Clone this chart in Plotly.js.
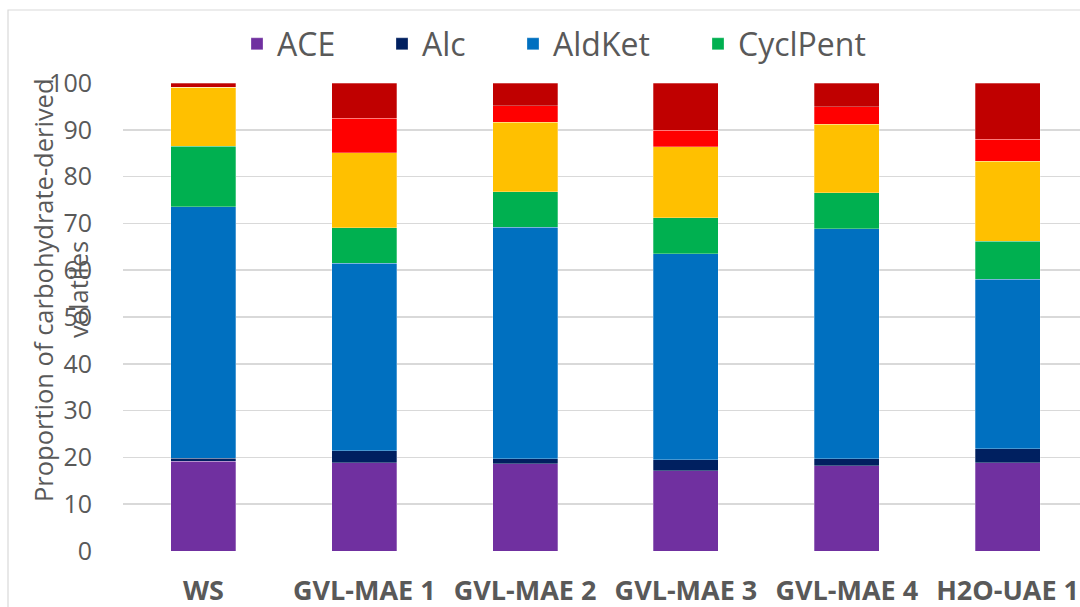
<!DOCTYPE html>
<html>
<head>
<meta charset="utf-8">
<script src="https://cdn.plot.ly/plotly-3.0.1.min.js"></script>
<style>
  html, body { margin: 0; padding: 0; background: #ffffff; overflow: hidden; width: 1080px; height: 607px; }
  #chart { position: absolute; left: 0; top: 0; width: 1100px; height: 607px; }
</style>
</head>
<body>
<div id="chart"></div>
<script>
// ---- data ----
const categories = ['WS', 'GVL-MAE 1', 'GVL-MAE 2', 'GVL-MAE 3', 'GVL-MAE 4', 'H2O-UAE 1'];
const seriesNames = ['ACE', 'Alc', 'AldKet', 'CyclPent', 'Series5', 'Series6', 'Series7'];
const ace      = [19.2, 18.9, 18.6, 17.1, 18.2, 18.9];
const alc      = [0.6, 2.5, 1.1, 2.4, 1.5, 3.0];
const aldket   = [53.8, 40.1, 49.5, 44.0, 49.2, 36.2];
const cyclpent = [12.9, 7.6, 7.6, 7.7, 7.7, 8.1];
const series5  = [12.6, 16.0, 14.8, 15.2, 14.6, 17.1];
const series6  = [0.0, 7.4, 3.5, 3.5, 3.7, 4.7];
const series7  = [0.9, 7.5, 4.9, 10.1, 5.1, 12.0];
const yTickValues = [0, 10, 20, 30, 40, 50, 60, 70, 80, 90, 100];
const yTitleLine1 = 'Proportion of carbohydrate-derived';
const yTitleLine2 = 'volatiles';

// ---- styles ----
const colors = ['#7030A0', '#002060', '#0070C0', '#00B050', '#FFC000', '#FF0000', '#C00000'];
const legendIds = ['legend', 'legend2', 'legend3', 'legend4', 'legend', 'legend', 'legend'];
const inLegend = [true, true, true, true, false, false, false];
const legendLeftPx = [237, 382, 513, 698];
const allValues = [ace, alc, aldket, cyclpent, series5, series6, series7];
const FONT = 'Open Sans, DejaVu Sans, sans-serif';
const GREY = '#595959';

const W = 1100, H = 607;
const M = { l: 123, r: 12, t: 83, b: 56 };
const pw = W - M.l - M.r, ph = H - M.t - M.b;
const px2x = p => (p - M.l) / pw;
const px2y = p => (H - M.b - p) / ph;

const traces = allValues.map((vals, i) => ({
  type: 'bar',
  name: seriesNames[i],
  x: categories,
  y: vals,
  legend: legendIds[i],
  marker: { color: colors[i], line: { color: 'rgba(255,255,255,0.35)', width: 0.8 } },
  showlegend: inLegend[i],
  hoverinfo: 'x+y+name'
}));

function legendAt(leftPx) {
  return {
    orientation: 'h',
    traceorder: 'normal',
    x: px2x(leftPx), xanchor: 'left',
    y: px2y(44), yanchor: 'middle',
    font: { size: 32, color: GREY, family: FONT },
    itemwidth: 30,
    bgcolor: 'rgba(0,0,0,0)'
  };
}

const layout = {
  width: W, height: H,
  margin: M,
  barmode: 'stack',
  bargap: 0.596,
  paper_bgcolor: '#ffffff',
  plot_bgcolor: '#ffffff',
  font: { family: FONT, color: GREY },
  showlegend: true,
  legend: legendAt(legendLeftPx[0]),
  legend2: legendAt(legendLeftPx[1]),
  legend3: legendAt(legendLeftPx[2]),
  legend4: legendAt(legendLeftPx[3]),
  xaxis: {
    type: 'category',
    showgrid: false, zeroline: false, showline: false,
    ticks: '', ticklabelstandoff: 21,
    tickfont: { size: 27, color: GREY, family: FONT, weight: 'bold' }
  },
  yaxis: {
    range: [0, 100],
    tickvals: yTickValues,
    showgrid: true, gridcolor: '#d9d9d9', gridwidth: 1.5,
    zeroline: false, showline: false,
    ticks: '', ticklabelstandoff: 30,
    tickfont: { size: 25, color: GREY, family: FONT }
  },
  shapes: [{
    type: 'rect', xref: 'paper', yref: 'paper', layer: 'below',
    x0: px2x(8), x1: px2x(1120), y0: px2y(640), y1: px2y(10),
    line: { color: '#d9d9d9', width: 1.2 }, fillcolor: 'rgba(0,0,0,0)'
  }],
  annotations: [
    { text: yTitleLine1, xref: 'paper', yref: 'paper', x: px2x(43), y: px2y(290),
      xanchor: 'center', yanchor: 'middle', textangle: -90, showarrow: false,
      font: { size: 25.5, color: GREY, family: FONT } },
    { text: yTitleLine2, xref: 'paper', yref: 'paper', x: px2x(78), y: px2y(290),
      xanchor: 'center', yanchor: 'middle', textangle: -90, showarrow: false,
      font: { size: 25.5, color: GREY, family: FONT } }
  ]
};

Plotly.newPlot('chart', traces, layout, { displayModeBar: false, staticPlot: true });
</script>
</body>
</html>
